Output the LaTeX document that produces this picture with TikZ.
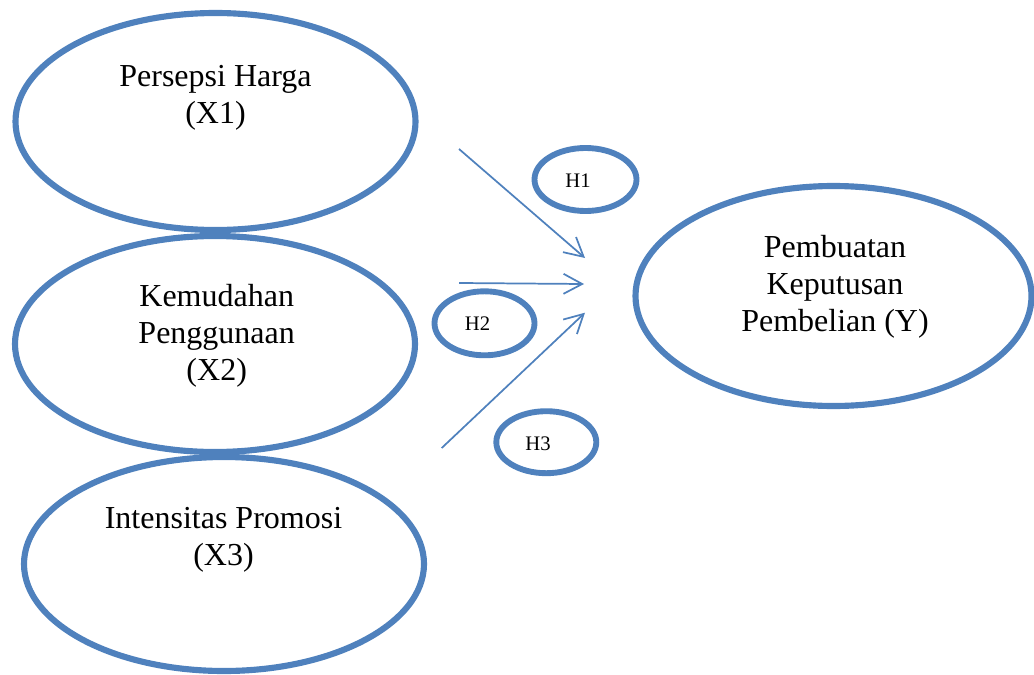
\documentclass[tikz,border=0pt]{standalone}
\usepackage{fontspec}
\setmainfont{Liberation Serif}
\usetikzlibrary{shapes.geometric,arrows.meta}
\definecolor{oblue}{RGB}{79,129,189}
\begin{document}
\begin{tikzpicture}[x=0.75pt,y=-0.75pt,
  bigell/.style={ellipse,draw=oblue,line width=4.6pt,inner sep=0pt},
  hypell/.style={ellipse,draw=oblue,line width=4.4pt,inner sep=0pt},
  bigtxt/.style={font=\fontsize{24}{27.75}\selectfont,align=center,inner sep=0pt,anchor=base},
  hyptxt/.style={font=\fontsize{15.5}{18}\selectfont,inner sep=0pt,anchor=base},
  conn/.style={draw=oblue,line width=1.3pt,-{Straight Barb[length=14pt,width=15pt,line width=1.3pt]}}]
\useasboundingbox (0,0) rectangle (1034,674);
% main construct ellipses
\node[bigell,minimum width=300pt,minimum height=162.75pt] (X1) at (215.5,121.5) {};
\node[bigell,minimum width=300pt,minimum height=162pt] (X2) at (215,344) {};
\node[bigell,minimum width=300pt,minimum height=160.5pt] (X3) at (224,564) {};
\node[bigell,minimum width=297pt,minimum height=165pt] (Y) at (833.5,296) {};
% hypothesis ellipses
\node[hypell,minimum width=76.5pt,minimum height=47.25pt] (H1) at (585.5,179.5) {};
\node[hypell,minimum width=75pt,minimum height=48pt] (H2) at (484.5,323.3) {};
\node[hypell,minimum width=75pt,minimum height=46.5pt] (H3) at (546.3,442.2) {};
% texts (base = baseline of last line)
\node[bigtxt] (X1t) at (215.5,123) {Persepsi Harga\\(X1)};
\node[bigtxt] (X2t) at (216.7,380) {Kemudahan\\Penggunaan\\(X2)};
\node[bigtxt] (X3t) at (223.5,565) {Intensitas Promosi\\(X3)};
\node[bigtxt] (Yt) at (835,331.7) {Pembuatan\\Keputusan\\Pembelian (Y)};
\node[hyptxt] (H1t) at (578,187.3) {H1};
\node[hyptxt] (H2t) at (477.5,330.7) {H2};
\node[hyptxt] (H3t) at (538,450) {H3};
% arrows
\coordinate (a1s) at (459,149);
\coordinate (a1e) at (585,258);
\coordinate (a2s) at (459,283);
\coordinate (a2e) at (584,284);
\coordinate (a3s) at (441.7,448);
\coordinate (a3e) at (585,312.7);
\draw[conn] (a1s) -- (a1e);
\draw[conn] (a2s) -- (a2e);
\draw[conn] (a3s) -- (a3e);
\end{tikzpicture}
\end{document}
